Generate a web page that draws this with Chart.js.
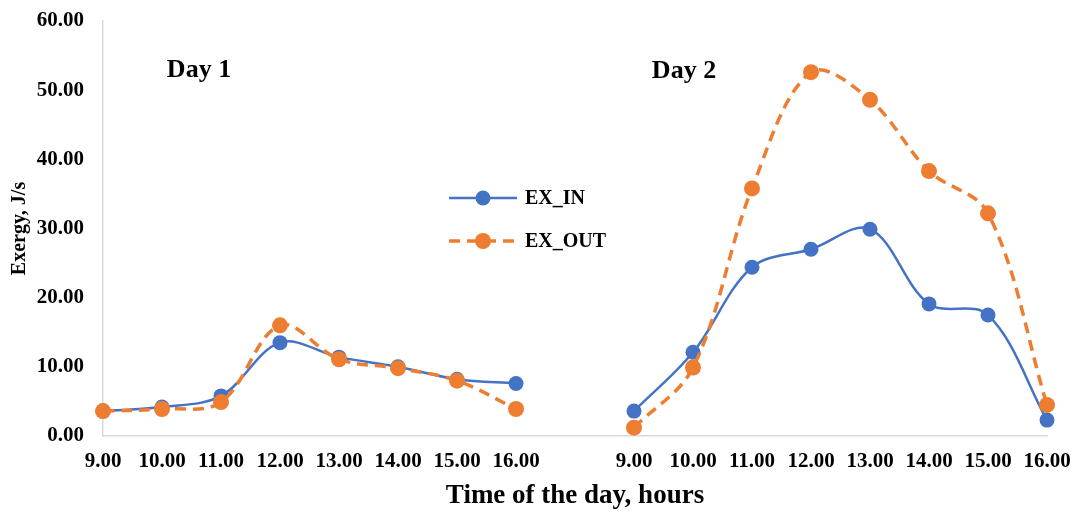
<!DOCTYPE html>
<html>
<head>
<meta charset="utf-8">
<script src="https://cdn.jsdelivr.net/npm/chart.js@4.4.1/dist/chart.umd.min.js"></script>
<style>
  html, body { margin: 0; padding: 0; background: #ffffff; }
  #wrap { width: 1077px; height: 512px; position: relative; }
</style>
</head>
<body>
<div id="wrap"><canvas id="chart"></canvas></div>
<script>
// Hours of two measurement days; the blank entry separates Day 1 from Day 2.
const hours = ['9.00','10.00','11.00','12.00','13.00','14.00','15.00','16.00','',
               '9.00','10.00','11.00','12.00','13.00','14.00','15.00','16.00'];

// Exergy input, J/s
const exInDay1 = [3.6, 4.2, 5.8, 13.5, 11.4, 10.0, 8.2, 7.6];
const exInDay2 = [3.6, 12.1, 24.4, 27.0, 29.9, 19.1, 17.5, 2.3];

// Exergy output, J/s
const exOutDay1 = [3.6, 3.9, 4.9, 16.0, 11.1, 9.8, 8.0, 3.9];
const exOutDay2 = [1.2, 9.9, 35.8, 52.6, 48.6, 38.3, 32.2, 4.5];

const yTicks = [0, 10, 20, 30, 40, 50, 60];

const exIn = [...exInDay1, null, ...exInDay2];
const exOut = [...exOutDay1, null, ...exOutDay2];

const BLUE = '#4472C4';
const ORANGE = '#ED7D31';
const SERIF = '"Liberation Serif", "Times New Roman", serif';

// Day captions and an in-plot legend
const annotations = {
  id: 'annotations',
  afterDraw(chart) {
    const ctx = chart.ctx;
    ctx.save();
    ctx.fillStyle = '#000';
    ctx.font = 'bold 26px ' + SERIF;
    ctx.textAlign = 'center';
    ctx.textBaseline = 'alphabetic';
    ctx.fillText('Day 1', 199, 77);
    ctx.fillText('Day 2', 684, 78);

    const items = [
      { label: 'EX_IN', color: BLUE, width: 2.5, dash: [], r: 7.5, y: 198 },
      { label: 'EX_OUT', color: ORANGE, width: 3.5, dash: [11, 7], r: 8, y: 241 }
    ];
    items.forEach(it => {
      ctx.strokeStyle = it.color;
      ctx.lineWidth = it.width;
      ctx.setLineDash(it.dash);
      ctx.beginPath();
      ctx.moveTo(449, it.y);
      ctx.lineTo(517, it.y);
      ctx.stroke();
      ctx.setLineDash([]);
      ctx.fillStyle = it.color;
      ctx.beginPath();
      ctx.arc(483, it.y, it.r, 0, Math.PI * 2);
      ctx.fill();
      ctx.fillStyle = '#000';
      ctx.font = 'bold 20px ' + SERIF;
      ctx.textAlign = 'left';
      ctx.textBaseline = 'middle';
      ctx.fillText(it.label, 525, it.y + 1);
    });
    ctx.restore();
  }
};

new Chart(document.getElementById('chart'), {
  type: 'line',
  data: {
    labels: hours,
    datasets: [
      {
        label: 'EX_IN',
        data: exIn,
        borderColor: BLUE,
        backgroundColor: BLUE,
        borderWidth: 2.5,
        pointRadius: 7.5,
        pointBorderWidth: 0,
        pointBackgroundColor: BLUE,
        tension: 0.35,
        spanGaps: false,
        clip: false,
        order: 2
      },
      {
        label: 'EX_OUT',
        data: exOut,
        borderColor: ORANGE,
        backgroundColor: ORANGE,
        borderWidth: 3.5,
        borderDash: [11, 7],
        pointRadius: 8,
        pointBorderWidth: 0,
        pointBackgroundColor: ORANGE,
        tension: 0.35,
        spanGaps: false,
        clip: false,
        order: 1
      }
    ]
  },
  options: {
    responsive: true,
    maintainAspectRatio: false,
    animation: false,
    layout: { padding: { left: 0, right: 30, top: 21, bottom: 0 } },
    plugins: {
      legend: { display: false },
      tooltip: { enabled: false }
    },
    scales: {
      x: {
        type: 'category',
        offset: false,
        grid: { display: false, drawTicks: false },
        border: { display: true, color: '#d9d9d9', width: 1.5 },
        ticks: {
          color: '#000',
          font: { family: SERIF, size: 21, weight: 'bold' },
          padding: 13,
          maxRotation: 0,
          autoSkip: false
        },
        title: {
          display: true,
          text: 'Time of the day, hours',
          color: '#000',
          font: { family: SERIF, size: 27, weight: 'bold' },
          padding: { top: 0, bottom: 0 }
        },
        afterFit(scale) {
          scale.height = 76;
          scale.paddingLeft = 0;
          scale.paddingRight = 0;
        }
      },
      y: {
        min: 0,
        max: 60,
        grid: { display: false, drawTicks: false },
        border: { display: true, color: '#d9d9d9', width: 1.5 },
        afterBuildTicks(scale) { scale.ticks = yTicks.map(v => ({ value: v })); },
        ticks: {
          color: '#000',
          font: { family: SERIF, size: 21, weight: 'bold' },
          padding: 19,
          callback: v => Number(v).toFixed(2)
        },
        title: {
          display: true,
          text: 'Exergy, J/s',
          color: '#000',
          font: { family: SERIF, size: 20, weight: 'bold' },
          padding: { top: 8, bottom: 0 }
        },
        afterFit(scale) {
          scale.width = 103;
          scale.paddingTop = 0;
          scale.paddingBottom = 0;
        }
      }
    }
  },
  plugins: [annotations]
});
</script>
</body>
</html>
